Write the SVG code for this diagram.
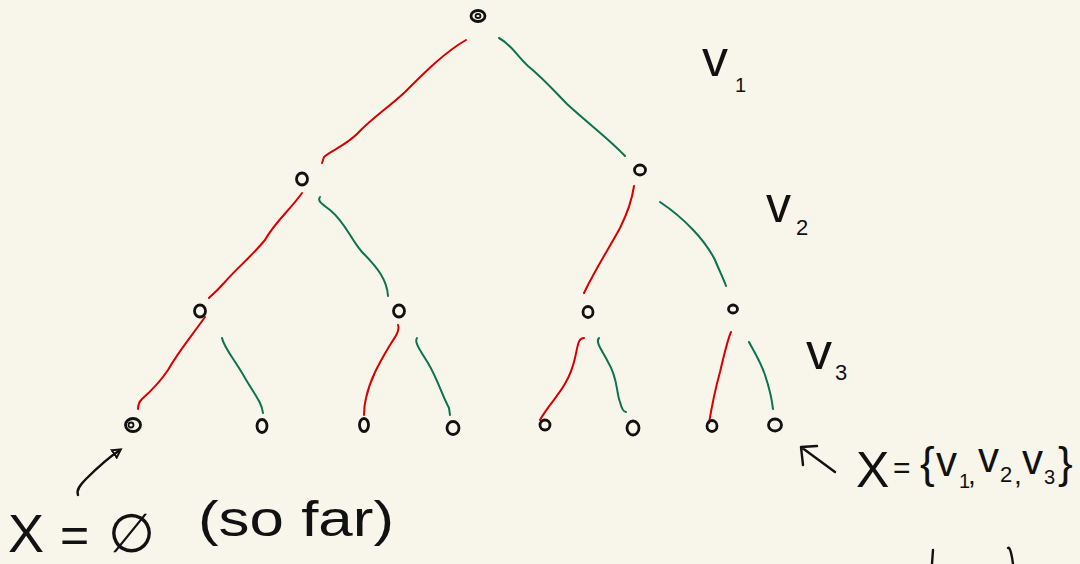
<svg xmlns="http://www.w3.org/2000/svg" width="1080" height="564" viewBox="0 0 1080 564">
<style>
.node{fill:none;stroke:#111;stroke-width:2.8}
.red{fill:none;stroke:#d60000;stroke-width:2;stroke-linecap:round}
.grn{fill:none;stroke:#0b7350;stroke-width:2;stroke-linecap:round}
.ink{fill:none;stroke:#111;stroke-width:2.4;stroke-linecap:round;stroke-linejoin:round}
.t{font-family:"Liberation Sans",Arial,sans-serif;fill:#111}
.tn{font-family:"Liberation Sans",Arial,sans-serif;fill:#111}
</style>
<defs>
<marker id="ah" markerWidth="12" markerHeight="12" refX="8" refY="6" orient="auto" markerUnits="userSpaceOnUse">
<path d="M1,1.5 L9,6 L1,10.5 Z" fill="none" stroke="#111" stroke-width="2"/>
</marker>
</defs>
<rect width="1080" height="564" fill="#f8f6ea"/>
<g id="connectors">
<path class="red" d="M466,40 C445,52 425,72 405,92 C388,108 372,118 358,133 C345,146 332,150 324,157 L322,163"/>
<path class="grn" d="M499,38 C512,45 516,55 528,66 C545,80 555,92 567,104 C590,125 610,140 625,156"/>
<path class="red" d="M302,193 C290,210 275,222 265,240 C250,258 235,270 224,283 C216,292 212,295 209,298"/>
<path class="grn" d="M320,197 C317,201 322,204 330,210 C345,222 350,238 362,252 C378,268 387,280 388,296"/>
<path class="grn" d="M660,202 C684,218 705,240 715,260 C720,272 724,280 726,286"/>
<path class="red" d="M634,186 C632,200 628,212 620,228 C608,250 596,268 584,293"/>
<path class="red" d="M205,317 C190,338 178,352 168,370 C158,385 150,392 142,399 C138,403 138,406 138,409"/>
<path class="grn" d="M222,338 C224,348 235,360 245,378 C255,395 262,403 263,413"/>
<path class="red" d="M398,325 C400,330 396,336 390,345 C378,365 370,380 366,398 C364,406 364,411 364,415"/>
<path class="grn" d="M417,338 C414,342 420,350 428,363 C438,380 442,395 449,408 L450,415"/>
<path class="red" d="M584,338 C578,338 578,345 575,358 C570,380 560,392 550,405 C545,412 542,416 540,420"/>
<path class="grn" d="M599,338 C595,342 602,350 608,362 C618,378 616,392 620,402 C622,410 624,412 626,412"/>
<path class="red" d="M731,332 C728,338 724,355 720,372 C715,390 712,405 709,423"/>
<path class="grn" d="M749,342 C752,348 760,360 765,375 C770,390 772,400 773,409"/>
<path class="ink" d="M78,495 C76,490 80,485 86,479 C96,469 108,458 120,450" marker-end="url(#ah)"/>
<path class="ink" d="M835,472 L801,447 M801,447 L803,465 M801,447 L817,446"/>
</g>
<g id="n0"><ellipse class="node" cx="478" cy="16" rx="7" ry="5.5"/><ellipse cx="478" cy="16" rx="2.5" ry="2" fill="none" stroke="#111" stroke-width="1.8"/></g>
<g id="n1"><ellipse class="node" cx="302" cy="179" rx="5.5" ry="6"/></g>
<g id="n2"><ellipse class="node" cx="640" cy="170" rx="5.5" ry="5"/></g>
<g id="n3"><ellipse class="node" cx="200" cy="311" rx="5.5" ry="6"/></g>
<g id="n4"><ellipse class="node" cx="399" cy="311" rx="5.5" ry="6"/></g>
<g id="n5"><ellipse class="node" cx="588" cy="312" rx="5" ry="5.5"/></g>
<g id="n6"><ellipse class="node" cx="733" cy="309" rx="4.5" ry="4"/></g>
<g id="n7"><ellipse class="node" cx="133" cy="425" rx="7.5" ry="6.5"/><circle cx="131" cy="425" r="2.5" fill="none" stroke="#111" stroke-width="1.8"/></g>
<g id="n8"><ellipse class="node" cx="262" cy="426" rx="5" ry="6.5"/></g>
<g id="n9"><ellipse class="node" cx="364" cy="425" rx="4.5" ry="6.5"/></g>
<g id="n10"><ellipse class="node" cx="453" cy="428" rx="6" ry="6.5"/></g>
<g id="n11"><ellipse class="node" cx="545" cy="425" rx="5" ry="5"/></g>
<g id="n12"><ellipse class="node" cx="633" cy="428" rx="6" ry="7"/></g>
<g id="n13"><ellipse class="node" cx="712" cy="426" rx="5" ry="5.5"/></g>
<g id="n14"><ellipse class="node" cx="775" cy="425" rx="6.5" ry="6"/></g>
<g id="labels">
<text class="t" x="702" y="76" font-size="52">v</text><text class="tn" x="735" y="92" font-size="20">1</text>
<text class="t" x="766" y="222" font-size="50">v</text><text class="tn" x="796" y="235" font-size="22">2</text>
<text class="t" x="806" y="369" font-size="52">v</text><text class="tn" x="835" y="380" font-size="22">3</text>
<text class="tn" x="8" y="552" font-size="54">X</text>
<text class="tn" x="60" y="552" font-size="50">=</text>
<text class="tn" x="108" y="552" font-size="54">∅</text>
<text class="tn" x="198" y="536" font-size="50" textLength="196" lengthAdjust="spacingAndGlyphs">(so far)</text>
<text class="tn" x="856" y="487" font-size="50">X</text>
<text class="tn" x="893" y="478" font-size="30">=</text>
<text class="tn" x="920" y="478" font-size="44">{</text>
<text class="t" x="936" y="476" font-size="42">v</text><text class="tn" x="959" y="488" font-size="20">1</text><text class="tn" x="968" y="484" font-size="28">,</text>
<text class="t" x="978" y="472" font-size="42">v</text><text class="tn" x="1000" y="482" font-size="22">2</text><text class="tn" x="1014" y="484" font-size="28">,</text>
<text class="t" x="1022" y="474" font-size="42">v</text><text class="tn" x="1044" y="484" font-size="20">3</text>
<text class="tn" x="1058" y="478" font-size="44">}</text>
</g>
<g id="marks">
<path class="ink" d="M933,550 L932,564"/>
<path class="ink" d="M1008,548 C1010,546 1012,556 1013,564"/>
</g>
</svg>
